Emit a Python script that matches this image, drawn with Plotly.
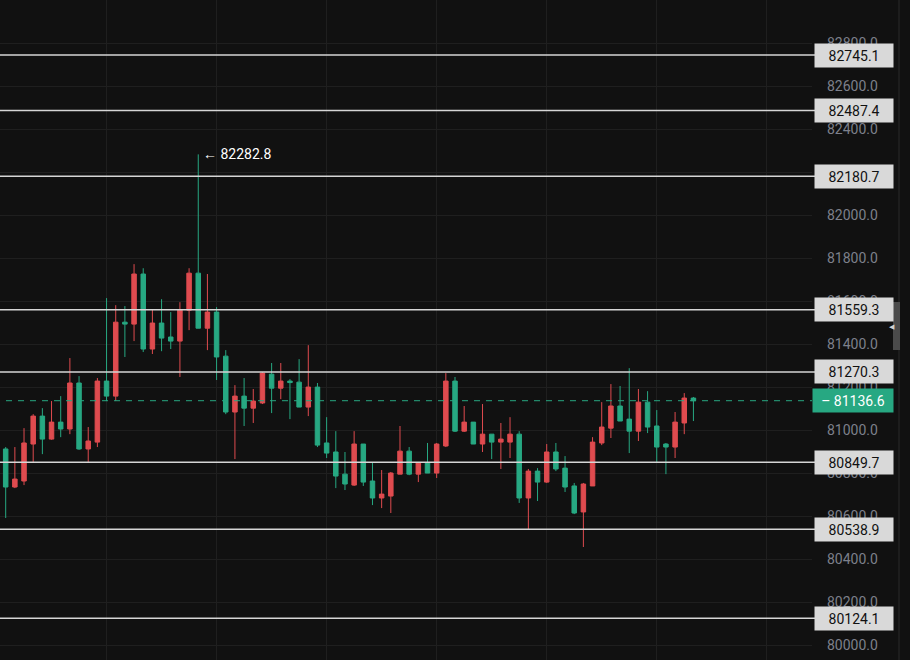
import plotly.graph_objects as go

# ---- data ----
opens = [80912, 80735, 80763, 80935, 81065, 80958, 81037, 81005, 81219, 80912,
         80944, 81228, 81158, 81502, 81493, 81726, 81377, 81498, 81433, 81414,
         81558, 81730, 81474, 81549, 81344, 81084, 81158, 81102, 81126, 81260,
         81195, 81228, 81223, 81107, 81200, 80940, 80898, 80795, 80744, 80935,
         80763, 80684, 80693, 80795, 80902, 80795, 80847, 80800, 80926, 81228,
         80995, 81037, 80935, 80981, 80944, 80944, 80981, 80684, 80809, 80758,
         80898, 80823, 80740, 80619, 80740, 80940, 81009, 81112, 81051, 80995,
         81130, 81019, 80935, 80921, 81033, 81149]
highs = [80921, 80921, 81009, 81074, 81102, 81135, 81158, 81335, 81251, 81014,
         81242, 81614, 81581, 81577, 81772, 81753, 81563, 81609, 81549, 81595,
         81753, 82282.8, 81726, 81572, 81372, 81209, 81242, 81191, 81270, 81312,
         81312, 81237, 81330, 81395, 81219, 81060, 80995, 80898, 80995, 80935,
         80847, 80814, 80805, 81019, 80921, 80847, 80940, 80940, 81265, 81247,
         81112, 81037, 81121, 80981, 81033, 81060, 80995, 80819, 80823, 80935,
         80940, 80879, 80754, 80754, 80967, 81130, 81214, 81205, 81288, 81191,
         81181, 81093, 80940, 81084, 81172, 81154]
lows = [80591, 80730, 80744, 80851, 80888, 80955, 80967, 80981, 80908, 80847,
        80921, 81135, 81135, 81340, 81414, 81363, 81354, 81367, 81377, 81247,
        81465, 81474, 81372, 81233, 81074, 80865, 81019, 81033, 81121, 81079,
        81144, 81051, 81107, 81065, 80921, 80870, 80730, 80721, 80740, 80740,
        80651, 80637, 80614, 80795, 80790, 80758, 80800, 80777, 80921, 80991,
        80991, 80935, 80898, 80865, 80819, 80870, 80661, 80535, 80670, 80754,
        80809, 80712, 80609, 80456, 80740, 80930, 80963, 81042, 80893, 80949,
        80986, 80847, 80795, 80870, 80981, 81042]
closes = [80735, 80772, 80940, 81065, 80958, 81037, 81005, 81219, 80912, 80949,
          81228, 81158, 81502, 81493, 81726, 81377, 81498, 81428, 81414, 81558,
          81730, 81474, 81549, 81340, 81084, 81158, 81102, 81135, 81265, 81195,
          81228, 81221, 81107, 81200, 80930, 80893, 80786, 80749, 80935, 80758,
          80684, 80702, 80800, 80902, 80795, 80847, 80800, 80935, 81228, 80995,
          81037, 80935, 80981, 80944, 80958, 80981, 80684, 80809, 80758, 80898,
          80819, 80735, 80614, 80749, 80944, 81014, 81112, 81042, 80995, 81130,
          81014, 80921, 80921, 81037, 81149, 81136.6]
candle_index = list(range(len(opens)))

level_lines = [82745.1, 82487.4, 82180.7, 81559.3, 81270.3, 80849.7, 80538.9, 80124.1]
last_price = 81136.6
max_high = 82282.8
y_ticks = [80000, 80200, 80400, 80600, 80800, 81000, 81200, 81400, 81600,
           81800, 82000, 82200, 82400, 82600, 82800, 83000]

# ---- style ----
BG = "#111111"
UP = "#df4b4f"
DOWN = "#27a882"
GRID = "#1f1f1f"
W, H = 910, 660
PLOT_R = 812 / W

fig = go.Figure()
fig.add_trace(go.Candlestick(
    x=candle_index, open=opens, high=highs, low=lows, close=closes,
    increasing=dict(line=dict(color=UP, width=1), fillcolor=UP),
    decreasing=dict(line=dict(color=DOWN, width=1), fillcolor=DOWN),
    whiskerwidth=0, showlegend=False, hoverinfo="skip",
))

shapes = []
annotations = []
for v in level_lines:
    shapes.append(dict(type="line", xref="paper", yref="y", x0=0, x1=815 / W,
                       y0=v, y1=v, line=dict(color="#d6d6d6", width=1.5), layer="above"))
    annotations.append(dict(xref="paper", yref="y", x=854 / W, y=v, xanchor="center",
                            yanchor="middle", text=f"{v:.1f}", showarrow=False,
                            font=dict(family="Roboto", size=14, color="#111111"),
                            bgcolor="#d9d9d9", width=72, height=17, borderpad=3))

# last price dashed line and label
shapes.append(dict(type="line", xref="paper", yref="y", x0=6 / W, x1=PLOT_R,
                   y0=last_price, y1=last_price,
                   line=dict(color=DOWN, width=1, dash="6px,6px"), layer="above"))
annotations.append(dict(xref="paper", yref="y", x=853 / W, y=last_price, xanchor="center",
                        yanchor="middle", text=f"\u2013 {last_price:.1f}", showarrow=False,
                        font=dict(family="Roboto", size=14, color="#ffffff"),
                        bgcolor=DOWN, width=74, height=17, borderpad=3))

# max high marker
annotations.append(dict(xref="x", yref="y", x=candle_index[highs.index(max_high)], y=max_high,
                        xanchor="left", yanchor="middle", xshift=3,
                        text=f"\u2190 {max_high:.1f}", showarrow=False,
                        font=dict(family="Roboto", size=14, color="#ffffff")))

# right side scrollbar chrome
shapes.append(dict(type="line", xref="paper", yref="paper", x0=899 / W, x1=899 / W,
                   y0=0, y1=1, line=dict(color="#2a2a2a", width=1)))
shapes.append(dict(type="rect", xref="paper", yref="paper", x0=893 / W, x1=900 / W,
                   y0=1 - 350 / H, y1=1 - 302 / H, fillcolor="#4a4a4a",
                   line=dict(width=0)))
annotations.append(dict(xref="paper", yref="paper", x=897 / W, y=1 - 327 / H,
                        text="\u25c0", showarrow=False,
                        font=dict(size=7, color="#cfcfcf")))

fig.update_layout(
    width=W, height=H,
    margin=dict(l=0, r=0, t=0, b=0),
    paper_bgcolor=BG, plot_bgcolor=BG,
    shapes=shapes, annotations=annotations,
    font=dict(family="Roboto", size=14, color="#7d808b"),
    xaxis=dict(domain=[0, PLOT_R], range=[-0.62, 87.93], showticklabels=False,
               tickmode="array", tickvals=[11, 23, 35, 47, 59, 71, 83],
               showgrid=True, gridcolor=GRID, gridwidth=1, zeroline=False,
               rangeslider=dict(visible=False), fixedrange=True),
    yaxis=dict(side="right", range=[79930.2, 83001], tickmode="array",
               tickvals=y_ticks, ticktext=[f"{t:.1f}" for t in y_ticks],
               showgrid=True, gridcolor=GRID, gridwidth=1, zeroline=False,
               ticks="", ticklabelstandoff=14,
               tickfont=dict(family="Roboto", size=14, color="#7d808b"),
               fixedrange=True),
)

fig.write_html("out.html", config={"displayModeBar": False},
               post_script="document.body.style.margin='0';document.body.style.background='#111111';")
